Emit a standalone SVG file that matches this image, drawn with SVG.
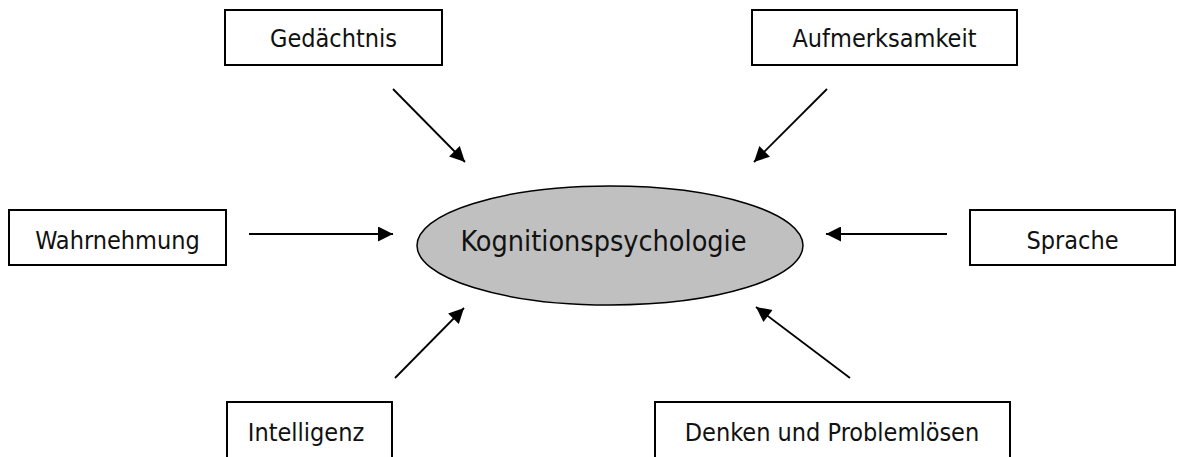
<svg xmlns="http://www.w3.org/2000/svg" width="1187" height="457" viewBox="0 0 1187 457">
  <style>
    .box { fill: #ffffff; stroke: #000000; stroke-width: 2; }
    .lbl { font-family: "DejaVu Sans Condensed", "DejaVu Sans", sans-serif; font-stretch: condensed; font-size: 25px; fill: #111111; text-anchor: middle; }
    .center { fill: #c0c0c0; stroke: #000000; stroke-width: 1.5; }
    .center-lbl { font-family: "DejaVu Sans Condensed", "DejaVu Sans", sans-serif; font-stretch: condensed; font-size: 28.5px; fill: #111111; text-anchor: middle; }
    .conn { stroke: #000000; stroke-width: 1.8; fill: none; marker-end: url(#head); }
  </style>
  <defs>
    <marker id="head" viewBox="0 0 10 10" refX="10" refY="5" markerUnits="userSpaceOnUse" markerWidth="19" markerHeight="15" orient="auto">
      <path d="M0,0 L10,5 L0,10 Z" fill="#000000"/>
    </marker>
  </defs>
  <rect width="1187" height="457" fill="#ffffff"/>

  <g id="connectors">
    <line class="conn" x1="393" y1="89" x2="465" y2="162"/>
    <line class="conn" x1="827" y1="89" x2="754" y2="162"/>
    <line class="conn" x1="249" y1="234" x2="393" y2="234"/>
    <line class="conn" x1="947" y1="234" x2="826" y2="234"/>
    <line class="conn" x1="395" y1="378" x2="464" y2="308"/>
    <line class="conn" x1="850" y1="378" x2="756" y2="307"/>
  </g>

  <g id="node-kognitionspsychologie">
    <ellipse class="center" cx="610" cy="245.5" rx="193" ry="59.5"/>
    <text class="center-lbl" x="603.5" y="251">Kognitionspsychologie</text>
  </g>

  <g id="node-gedaechtnis">
    <rect class="box" x="225" y="10" width="217" height="55"/>
    <text class="lbl" x="333.5" y="47">Gedächtnis</text>
  </g>

  <g id="node-aufmerksamkeit">
    <rect class="box" x="752" y="10" width="265" height="55"/>
    <text class="lbl" x="884.5" y="47">Aufmerksamkeit</text>
  </g>

  <g id="node-wahrnehmung">
    <rect class="box" x="9" y="210" width="217" height="55"/>
    <text class="lbl" x="117.5" y="249">Wahrnehmung</text>
  </g>

  <g id="node-sprache">
    <rect class="box" x="970" y="210" width="205" height="55"/>
    <text class="lbl" x="1072.5" y="249">Sprache</text>
  </g>

  <g id="node-intelligenz">
    <rect class="box" x="227" y="402" width="165" height="70"/>
    <text class="lbl" x="306" y="441">Intelligenz</text>
  </g>

  <g id="node-denken">
    <rect class="box" x="655" y="402" width="355" height="70"/>
    <text class="lbl" x="832" y="441">Denken und Problemlösen</text>
  </g>
</svg>
